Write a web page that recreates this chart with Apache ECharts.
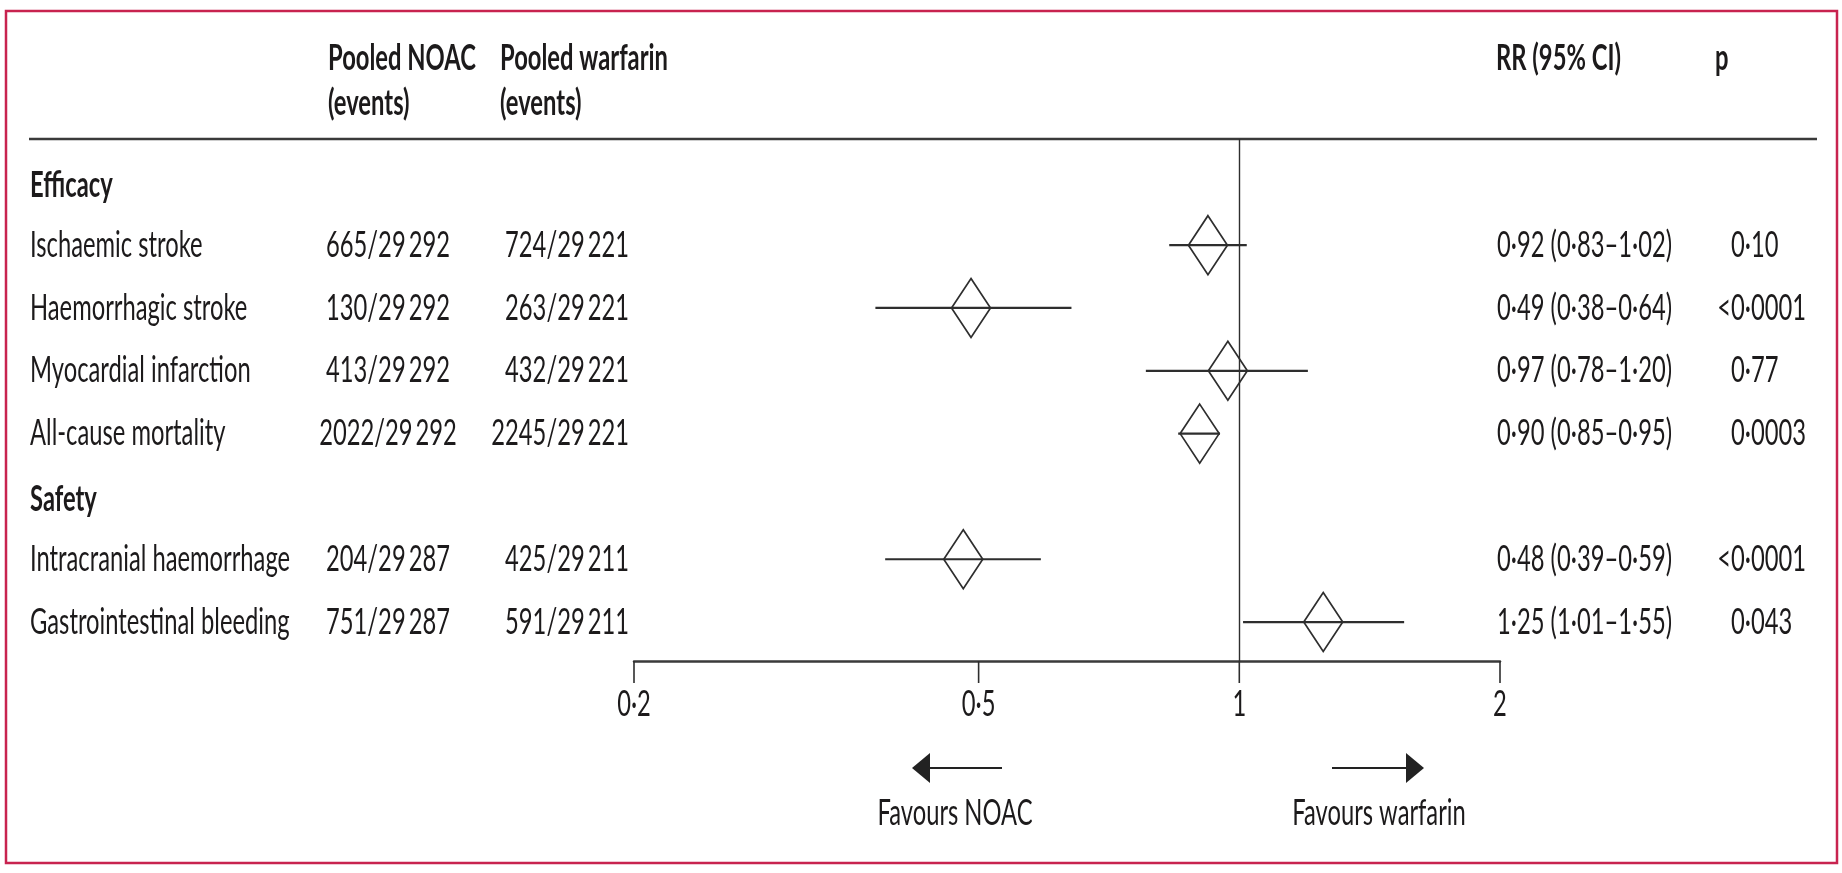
<!DOCTYPE html>
<html>
<head>
<meta charset="utf-8">
<script src="https://cdn.jsdelivr.net/npm/echarts@6/dist/echarts.min.js"></script>
<style>
html,body{margin:0;padding:0;background:#fff;}
#chart{width:1842px;height:873px;}
</style>
</head>
<body>
<div id="chart"></div>
<script>
// ---------------- data ----------------
const rowLabels = ['Efficacy', 'Ischaemic stroke', 'Haemorrhagic stroke', 'Myocardial infarction', 'All-cause mortality', 'Safety', 'Intracranial haemorrhage', 'Gastrointestinal bleeding'];
const rowIsHeading = [true, false, false, false, false, true, false, false];
const noacEvents = ['', '665/29\u2009292', '130/29\u2009292', '413/29\u2009292', '2022/29\u2009292', '', '204/29\u2009287', '751/29\u2009287'];
const warfarinEvents = ['', '724/29\u2009221', '263/29\u2009221', '432/29\u2009221', '2245/29\u2009221', '', '425/29\u2009211', '591/29\u2009211'];
const rrValues = [null, 0.92, 0.49, 0.97, 0.90, null, 0.48, 1.25];
const ciLower = [null, 0.83, 0.38, 0.78, 0.85, null, 0.39, 1.01];
const ciUpper = [null, 1.02, 0.64, 1.20, 0.95, null, 0.59, 1.55];
const rrLabels = ['', '0·92 (0·83–1·02)', '0·49 (0·38–0·64)', '0·97 (0·78–1·20)', '0·90 (0·85–0·95)', '', '0·48 (0·39–0·59)', '1·25 (1·01–1·55)'];
const pLabels = ['', '0·10', '<0·0001', '0·77', '0·0003', '', '<0·0001', '0·043'];
const xTickValues = [0.2, 0.5, 1, 2];
const xTickLabels = ['0·2', '0·5', '1', '2'];
const headerNoac = ['Pooled NOAC', '(events)'];
const headerWarfarin = ['Pooled warfarin', '(events)'];
const headerRR = 'RR (95% CI)';
const headerP = 'p';
const favourLeft = 'Favours NOAC';
const favourRight = 'Favours warfarin';

// ---------------- style ----------------
const FONT = 'Lato';
const FS = 33;
const SX = 0.72;
const SY = 1.1;
const TXT = '#1c1a1b';
const LINE = '#2e2e2e';
const Y_MIN = -0.69, Y_MAX = 7.62;

function txt(x, y, text, align, weight) {
  return {
    type: 'text', x: x, y: y, scaleX: SX, scaleY: SY,
    style: {
      text: text, x: 0, y: 0, fill: TXT,
      fontFamily: FONT, fontSize: FS, fontWeight: weight || 'normal',
      align: align, verticalAlign: 'middle',
      textAlign: align, textVerticalAlign: 'middle'
    }
  };
}

const chart = echarts.init(document.getElementById('chart'), null, {renderer: 'canvas'});

const tableData = rowLabels.map((_, i) => [1, i]);
const forestData = [];
rrValues.forEach((v, i) => { if (v != null) forestData.push([v, ciLower[i], ciUpper[i], i]); });
const tickData = xTickValues.map((v) => [v, Y_MAX]);

const option = {
  backgroundColor: '#ffffff',
  animation: false,
  grid: {left: 634, right: 342, top: 139, bottom: 212, containLabel: false},
  xAxis: {
    type: 'log', logBase: 10, min: 0.2, max: 2,
    axisLine: {show: true, onZero: false, lineStyle: {color: '#3a3a3a', width: 2.5}},
    axisTick: {show: false}, axisLabel: {show: false}, splitLine: {show: false}
  },
  yAxis: {type: 'value', inverse: true, min: Y_MIN, max: Y_MAX, show: false, splitLine: {show: false}},
  series: [
    {
      type: 'custom', name: 'table', clip: false, silent: true,
      data: tableData,
      encode: {x: 0, y: 1},
      renderItem: function (params, api) {
        const i = params.dataIndex;
        const y = api.coord([1, i])[1];
        const children = [];
        children.push(txt(30, rowIsHeading[i] ? y + 3 : y, rowLabels[i], 'left', rowIsHeading[i] ? 'bold' : 'normal'));
        if (!rowIsHeading[i]) {
          children.push(txt(388, y, noacEvents[i], 'center'));
          children.push(txt(629, y, warfarinEvents[i], 'right'));
          children.push(txt(1497, y, rrLabels[i], 'left'));
          const p = pLabels[i];
          if (p.charAt(0) === '<') {
            children.push(txt(1731, y, '<', 'right'));
            children.push(txt(1731, y, p.slice(1), 'left'));
          } else {
            children.push(txt(1731, y, p, 'left'));
          }
        }
        return {type: 'group', children: children};
      }
    },
    {
      type: 'custom', name: 'forest', clip: false, silent: true,
      data: forestData,
      encode: {x: [0, 1, 2], y: 3},
      renderItem: function (params, api) {
        const row = api.value(3);
        const c = api.coord([api.value(0), row]);
        const lo = api.coord([api.value(1), row]);
        const hi = api.coord([api.value(2), row]);
        const hw = 19.5, hh = 29.5;
        return {
          type: 'group',
          children: [
            {type: 'line', shape: {x1: lo[0], y1: c[1], x2: hi[0], y2: c[1]},
             style: {stroke: LINE, lineWidth: 2.2}},
            {type: 'polygon', shape: {points: [[c[0], c[1] - hh], [c[0] + hw, c[1]], [c[0], c[1] + hh], [c[0] - hw, c[1]]]},
             style: {fill: 'none', stroke: LINE, lineWidth: 1.7}}
          ]
        };
      },
      markLine: {
        silent: true, symbol: ['none', 'none'], label: {show: false},
        lineStyle: {color: LINE, width: 1.4, type: 'solid'},
        data: [{xAxis: 1}]
      }
    },
    {
      type: 'custom', name: 'ticks', clip: false, silent: true,
      data: tickData,
      encode: {x: 0, y: 1},
      renderItem: function (params, api) {
        const p = api.coord([api.value(0), api.value(1)]);
        return {
          type: 'group',
          children: [
            {type: 'line', shape: {x1: p[0], y1: p[1], x2: p[0], y2: p[1] + 22},
             style: {stroke: LINE, lineWidth: 1.6}},
            txt(p[0], p[1] + 43, xTickLabels[params.dataIndex], 'center')
          ]
        };
      }
    }
  ],
  graphic: [
    {type: 'rect', silent: true, shape: {x: 6, y: 11, width: 1831, height: 852},
     style: {fill: 'none', stroke: '#c8234f', lineWidth: 2.5}},
    {type: 'line', silent: true, shape: {x1: 29, y1: 139, x2: 1817, y2: 139},
     style: {stroke: '#3a3a3a', lineWidth: 2.5}},
    txt(328, 58, headerNoac[0], 'left', 'bold'),
    txt(328, 103, headerNoac[1], 'left', 'bold'),
    txt(500, 58, headerWarfarin[0], 'left', 'bold'),
    txt(500, 103, headerWarfarin[1], 'left', 'bold'),
    txt(1496, 58, headerRR, 'left', 'bold'),
    txt(1715, 58, headerP, 'left', 'bold'),
    // arrows
    {type: 'line', silent: true, shape: {x1: 928, y1: 768, x2: 1002, y2: 768}, style: {stroke: '#222', lineWidth: 2}},
    {type: 'polygon', silent: true, shape: {points: [[912, 768], [930, 753], [930, 783]]}, style: {fill: '#222'}},
    {type: 'line', silent: true, shape: {x1: 1332, y1: 768, x2: 1408, y2: 768}, style: {stroke: '#222', lineWidth: 2}},
    {type: 'polygon', silent: true, shape: {points: [[1424, 768], [1406, 753], [1406, 783]]}, style: {fill: '#222'}},
    txt(955, 813, favourLeft, 'center'),
    txt(1379, 813, favourRight, 'center')
  ]
};
chart.setOption(option);
</script>
</body>
</html>
